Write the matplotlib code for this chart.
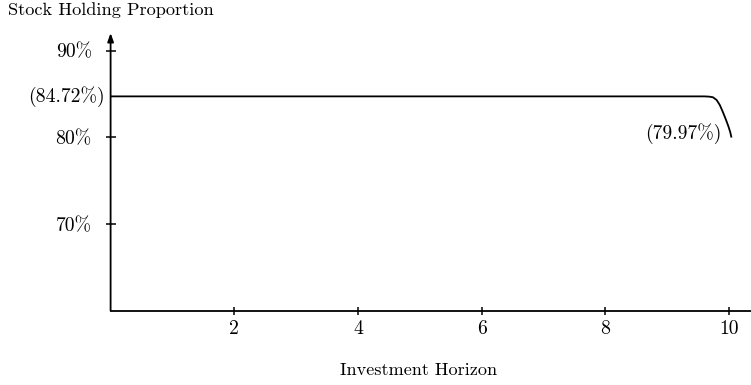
import matplotlib
matplotlib.use("Agg")
import matplotlib.pyplot as plt

plt.rcParams["font.family"] = "cmr10"
plt.rcParams["axes.formatter.use_mathtext"] = True

# optimal stock share (%) against investment horizon
horizon = [0.0, 9.50, 9.60, 9.68, 9.74, 9.80, 9.85, 9.89, 9.93, 9.96,
           9.99, 10.02, 10.04]
stock_share = [84.72, 84.72, 84.72, 84.69, 84.62, 84.30, 83.74, 83.10, 82.40, 81.85,
               81.27, 80.60, 79.97]

x_ticks = [2, 4, 6, 8, 10]
y_ticks = [70, 80, 90]
y_tick_labels = ["70%", "80%", "90%"]

W, H = 751, 385
fig = plt.figure(figsize=(W / 100, H / 100), dpi=100)
left, right, top, bottom = 110.6, 751, 33, 310.7
ax = fig.add_axes([left / W, 1 - bottom / H, (right - left) / W, (bottom - top) / H])

ax.plot(horizon, stock_share, color="black", lw=1.3, solid_capstyle="butt")
ax.set_xlim(0, (right - left) / 61.84)
ax.set_ylim(60, 60 + (bottom - top) / 8.67)

for s in ["top", "right", "left"]:
    ax.spines[s].set_visible(False)
ax.spines["bottom"].set_linewidth(1.3)
# y axis drawn as an arrow
ax.annotate("", xy=(0, 1), xytext=(0, 0), xycoords="axes fraction",
            arrowprops=dict(arrowstyle="-|>,head_length=0.5,head_width=0.18",
                            lw=1.3, color="black", shrinkA=0, shrinkB=0))

ax.set_xticks(x_ticks)
ax.set_xticklabels([str(t) for t in x_ticks])
ax.set_yticks(y_ticks)
ax.set_yticklabels(y_tick_labels)
ax.tick_params(axis="x", direction="inout", length=6, width=1.1, pad=4, labelsize=14.2)
ax.tick_params(axis="y", direction="inout", length=7, width=1.1, pad=10, labelsize=14.2)

ax.annotate(f"({stock_share[0]:.2f}%)", (0, stock_share[0]), xytext=(-4, 0),
            textcoords="offset points", ha="right", va="center", fontsize=14.2)
ax.annotate(f"({stock_share[-1]:.2f}%)", (horizon[-1], stock_share[-1]), xytext=(-7, 3),
            textcoords="offset points", ha="right", va="center", fontsize=14.2)

fig.text(8 / W, 1 - 10 / H, "Stock Holding Proportion", ha="left", va="center", fontsize=13.2)
fig.text(419 / W, 1 - 370 / H, "Investment Horizon", ha="center", va="center", fontsize=13.1)

fig.savefig("out.png", dpi=100, facecolor="white")
